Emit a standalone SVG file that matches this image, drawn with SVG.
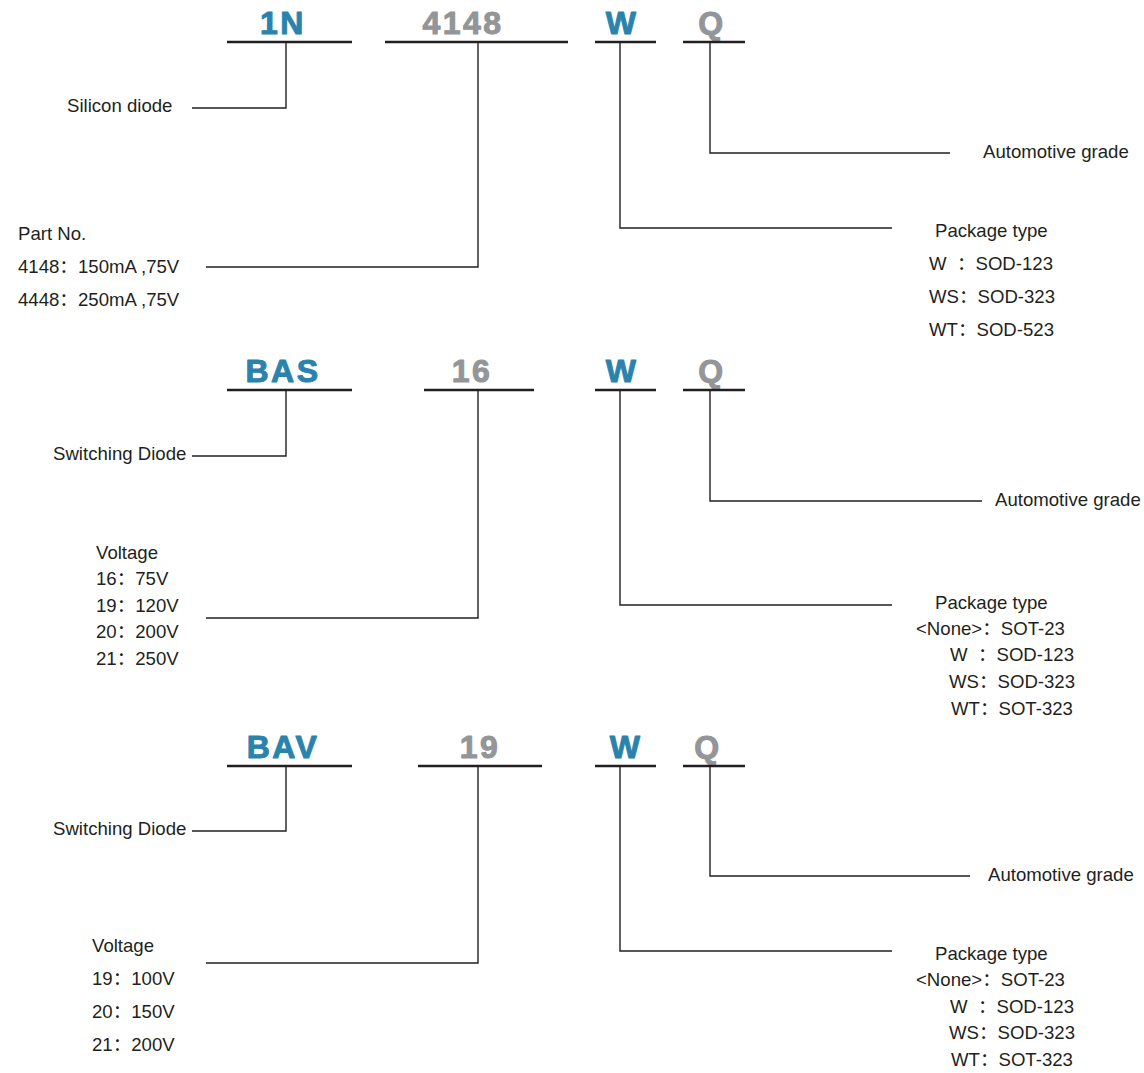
<svg xmlns="http://www.w3.org/2000/svg" width="1144" height="1073" viewBox="0 0 1144 1073">
<style>
.t{font-family:"Liberation Sans","Noto Sans CJK SC",Arial,sans-serif;font-size:18.6px;fill:#231f20}
.h{font-family:"Liberation Sans",Arial,sans-serif;font-weight:bold;font-size:32px;letter-spacing:2.5px;text-anchor:middle;stroke-width:1;stroke-linejoin:round}
.b{fill:#2a83ad;stroke:#2a83ad}
.g{fill:#939598;stroke:#939598}
.u{stroke:#231f20;stroke-width:2.5;fill:none}
.c{stroke:#231f20;stroke-width:1.4;fill:none}
</style>
<rect width="1144" height="1073" fill="#fff"/>
<g id="connectors">
<path class="c" d="M286 42V108H192"/>
<path class="c" d="M478 42V267H206"/>
<path class="c" d="M620 42V228H892"/>
<path class="c" d="M710 42V153H950"/>
<path class="c" d="M286 390V456H192"/>
<path class="c" d="M478 390V618H206"/>
<path class="c" d="M620 390V605H892"/>
<path class="c" d="M710 390V501H982"/>
<path class="c" d="M286 766V831H192"/>
<path class="c" d="M478 766V963H206"/>
<path class="c" d="M620 766V951H892"/>
<path class="c" d="M710 766V876H970"/>
</g>
<g id="row1-1N"><text class="h b" x="283" y="34">1N</text><line class="u" x1="227" y1="42" x2="352" y2="42"/></g>
<g id="row1-4148"><text class="h g" x="463" y="34">4148</text><line class="u" x1="385" y1="42" x2="568" y2="42"/></g>
<g id="row1-W"><text class="h b" x="622" y="34">W</text><line class="u" x1="595" y1="42" x2="656" y2="42"/></g>
<g id="row1-Q"><text class="h g" x="712" y="34">Q</text><line class="u" x1="683" y1="42" x2="745" y2="42"/></g>
<g id="row1-silicon"><text class="t" x="67" y="112">Silicon diode</text></g>
<g id="row1-partno">
<text class="t" x="18" y="240">Part No.</text>
<text class="t" x="18" y="273">4148：150mA ,75V</text>
<text class="t" x="18" y="306">4448：250mA ,75V</text>
</g>
<g id="row1-auto"><text class="t" x="983" y="158">Automotive grade</text></g>
<g id="row1-pkg">
<text class="t" x="935" y="237">Package type</text>
<text class="t" x="929" y="270">W&#160;&#160;：SOD-123</text>
<text class="t" x="929" y="303">WS：SOD-323</text>
<text class="t" x="929" y="336">WT：SOD-523</text>
</g>
<g id="row2-BAS"><text class="h b" x="283" y="382">BAS</text><line class="u" x1="227" y1="390" x2="352" y2="390"/></g>
<g id="row2-16"><text class="h g" x="472" y="382">16</text><line class="u" x1="424" y1="390" x2="534" y2="390"/></g>
<g id="row2-W"><text class="h b" x="622" y="382">W</text><line class="u" x1="595" y1="390" x2="656" y2="390"/></g>
<g id="row2-Q"><text class="h g" x="712" y="382">Q</text><line class="u" x1="683" y1="390" x2="745" y2="390"/></g>
<g id="row2-switch"><text class="t" x="53" y="460">Switching Diode</text></g>
<g id="row2-voltage">
<text class="t" x="96" y="559">Voltage</text>
<text class="t" x="96" y="585">16：75V</text>
<text class="t" x="96" y="612">19：120V</text>
<text class="t" x="96" y="638">20：200V</text>
<text class="t" x="96" y="665">21：250V</text>
</g>
<g id="row2-auto"><text class="t" x="995" y="506">Automotive grade</text></g>
<g id="row2-pkg">
<text class="t" x="935" y="609">Package type</text>
<text class="t" x="916" y="635">&lt;None&gt;：SOT-23</text>
<text class="t" x="950" y="661">W&#160;&#160;：SOD-123</text>
<text class="t" x="949" y="688">WS：SOD-323</text>
<text class="t" x="951" y="715">WT：SOT-323</text>
</g>
<g id="row3-BAV"><text class="h b" x="283" y="758">BAV</text><line class="u" x1="227" y1="766" x2="352" y2="766"/></g>
<g id="row3-19"><text class="h g" x="480" y="758">19</text><line class="u" x1="418" y1="766" x2="542" y2="766"/></g>
<g id="row3-W"><text class="h b" x="626" y="758">W</text><line class="u" x1="595" y1="766" x2="656" y2="766"/></g>
<g id="row3-Q"><text class="h g" x="708" y="758">Q</text><line class="u" x1="683" y1="766" x2="745" y2="766"/></g>
<g id="row3-switch"><text class="t" x="53" y="835">Switching Diode</text></g>
<g id="row3-voltage">
<text class="t" x="92" y="952">Voltage</text>
<text class="t" x="92" y="985">19：100V</text>
<text class="t" x="92" y="1018">20：150V</text>
<text class="t" x="92" y="1051">21：200V</text>
</g>
<g id="row3-auto"><text class="t" x="988" y="881">Automotive grade</text></g>
<g id="row3-pkg">
<text class="t" x="935" y="960">Package type</text>
<text class="t" x="916" y="986">&lt;None&gt;：SOT-23</text>
<text class="t" x="950" y="1013">W&#160;&#160;：SOD-123</text>
<text class="t" x="949" y="1039">WS：SOD-323</text>
<text class="t" x="951" y="1066">WT：SOT-323</text>
</g>
</svg>
